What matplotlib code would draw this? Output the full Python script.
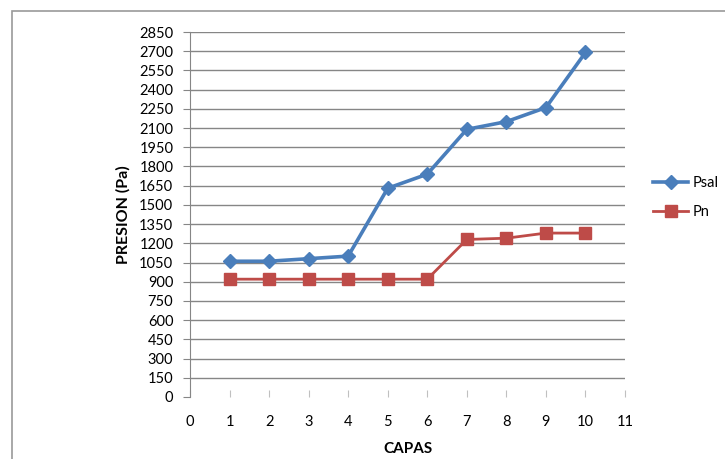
import matplotlib
matplotlib.use("Agg")
import matplotlib.pyplot as plt
from matplotlib.patches import Rectangle

capas = [1, 2, 3, 4, 5, 6, 7, 8, 9, 10]
psal = [1060, 1060, 1080, 1100, 1630, 1740, 2090, 2150, 2260, 2690]
pn = [920, 920, 920, 920, 920, 920, 1230, 1240, 1280, 1280]
yticks = list(range(0, 2851, 150))
xticks = list(range(0, 12))

plt.rcParams['font.family'] = ['Lato', 'DejaVu Sans']

W, H = 725, 459
fig = plt.figure(figsize=(W / 100, H / 100), dpi=100)
ax = fig.add_axes([190 / W, 1 - 397 / H, (625 - 190) / W, (397 - 32) / H])

grid_c = '#868686'
ax.plot(capas, psal, color='#4A7EBB', lw=2.6, marker='D', ms=7.5, label='Psal', zorder=3)
ax.plot(capas, pn, color='#BE4B48', lw=2.0, marker='s', ms=9, label='Pn', zorder=3)

ax.set_xlim(0, 11)
ax.set_ylim(0, 2850)
ax.set_yticks(yticks)
ax.set_xticks(xticks)
ax.yaxis.grid(True, color=grid_c, lw=1.0)
ax.set_axisbelow(True)
for s in ['top', 'right', 'bottom']:
    ax.spines[s].set_visible(False)
ax.spines['left'].set_color(grid_c)
ax.tick_params(axis='y', direction='out', length=5, color=grid_c, labelsize=10.5, pad=7)
ax.tick_params(axis='x', direction='in', length=5, color='#c0c0c0', labelsize=10.5, pad=13)
fig.canvas.draw()
ax.get_ygridlines()[0].set_visible(False)

ax.set_ylabel('PRESION (Pa)', fontsize=11.5, fontweight='bold', labelpad=6)
ax.set_xlabel('CAPAS', fontsize=11, fontweight='bold', labelpad=9)

ax.legend(loc='upper left', bbox_to_anchor=(640 / W, 1 - 163 / H), bbox_transform=fig.transFigure,
          frameon=False, fontsize=10.5, handlelength=2.4, labelspacing=1.0, handletextpad=0.3)

fig.patches.append(Rectangle((12 / W, -0.1), 1.2, 1 - 11 / H + 0.1, transform=fig.transFigure,
                             fill=False, edgecolor='#9a9a9a', lw=1.2))

fig.savefig('out.png', dpi=100)
